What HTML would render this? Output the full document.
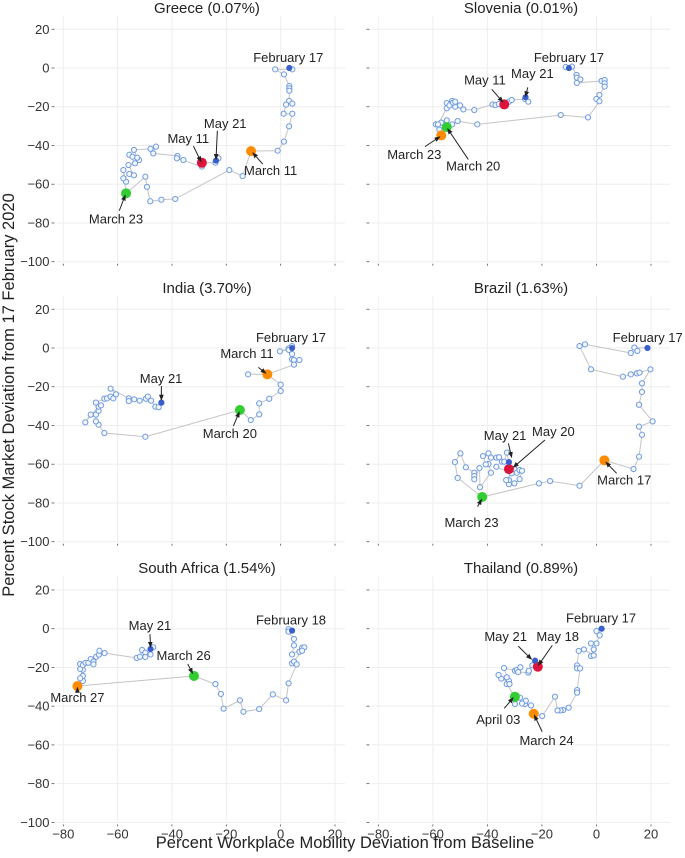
<!DOCTYPE html>
<html><head><meta charset="utf-8"><style>
html,body{margin:0;padding:0;background:#fff;}
svg{display:block;font-family:"Liberation Sans","DejaVu Sans",sans-serif;}
</style></head><body>
<svg id="chart" width="685" height="858" viewBox="0 0 685 858" xmlns="http://www.w3.org/2000/svg">
<defs><marker id="ah" viewBox="0 0 10 10" refX="9" refY="5" markerWidth="6" markerHeight="6" orient="auto"><path d="M0,1 L10,5 L0,9 z" fill="#222"/></marker></defs>
<text x="14" y="395" transform="rotate(-90 14 395)" text-anchor="middle" font-size="16.5" fill="#222">Percent Stock Market Deviation from 17 February 2020</text>
<text x="345" y="848" text-anchor="middle" font-size="16.5" fill="#222">Percent Workplace Mobility Deviation from Baseline</text>
</svg>
<script>
const xTicks=[-80,-60,-40,-20,0,20];
const yTicks=[20,0,-20,-40,-60,-80,-100];
const titles=["Greece (0.07%)","Slovenia (0.01%)","India (3.70%)","Brazil (1.63%)","South Africa (1.54%)","Thailand (0.89%)"];

const greeceX=[3.2,4.3,-2.0,1.2,3.2,3.2,3.2,3.1,4.3,2.0,1.1,4.3,3.1,1.2,-1.1,-10.9,-14.0,-18.9,-38.8,-43.9,-48.0,-49.2,-49.8,-56.9,-57.9,-56.9,-57.9,-55.7,-54.0,-56.0,-53.6,-55.7,-54.5,-52.1,-52.8,-54.0,-47.9,-45.9,-46.9,-38.0,-35.8,-38.2,-29.0,-29.0,-24.0,-22.9,-23.8];
const greeceY=[0,-0.7,-0.7,-3.3,-9.3,-10.5,-11.7,-17.0,-18.4,-18.9,-23.6,-23.6,-30.1,-38.0,-42.7,-42.9,-55.8,-52.7,-67.6,-68.0,-68.8,-61.4,-56.1,-64.7,-52.7,-58.7,-57.0,-54.7,-55.4,-50.1,-49.2,-44.8,-45.8,-47.5,-46.3,-42.3,-41.7,-40.6,-44.1,-45.4,-47.5,-46.6,-50.9,-48.9,-48.9,-46.6,-47.8];
const sloveniaX=[-10.1,-11.3,-9.0,-7.3,-7.2,-5.9,-7.2,1.9,3.0,3.0,3.0,1.1,0,1.1,-3.1,-13.1,-43.7,-50.9,-52.9,-54.9,-56.9,-57.6,-58.9,-56.9,-54.9,-58.1,-54.9,-54.9,-52.9,-53.9,-51.8,-52.6,-51.8,-50.0,-48.8,-44.8,-38.1,-37.0,-35.8,-33.8,-32.1,-31.1,-26.2,-25.0,-26.0];
const sloveniaY=[0,0.5,0.7,-3.6,-5.0,-5.9,-7.7,-6.7,-6.2,-7.9,-9.6,-13.9,-16.0,-17.2,-25.5,-24.3,-29.1,-27.4,-29.1,-30.5,-34.8,-31.8,-29.1,-28.2,-27.0,-29.1,-20.8,-18.1,-17.0,-19.3,-20.0,-17.9,-17.4,-19.3,-21.4,-21.7,-18.8,-19.1,-18.6,-18.8,-17.4,-16.5,-16.0,-17.4,-15.1];
const indiaX=[4.2,4.2,3.0,-0.3,3.0,4.2,4.2,4.9,6.9,4.9,-4.9,-12.0,-4.9,0,0,-4.2,-7.9,-7.9,-11.0,-15.0,-49.8,-64.9,-67.0,-68.0,-68.0,-67.0,-69.9,-71.9,-67.0,-66.1,-68.0,-64.9,-63.9,-62.6,-61.6,-60.6,-62.6,-55.9,-55.9,-53.9,-51.9,-49.6,-48.9,-47.7,-46.1,-44.9,-43.9];
const indiaY=[0,1.0,-0.2,-1.7,-1.0,-3.1,-5.9,-6.2,-6.2,-8.6,-13.6,-13.6,-13.6,-18.9,-22.2,-26.2,-28.6,-34.3,-37.2,-32.0,-45.8,-43.9,-39.6,-37.9,-34.4,-32.4,-34.4,-38.4,-30.3,-29.6,-28.2,-26.2,-26.0,-25.1,-26.0,-23.9,-21.0,-26.0,-27.4,-26.5,-27.2,-26.2,-25.1,-27.2,-30.3,-30.6,-28.2];
const brazilX=[18.7,13.9,15.0,12.6,-4.2,-6.2,-2.0,9.7,12.6,14.8,15.8,19.8,16.7,16.7,15.6,20.6,15.6,16.7,15.6,13.6,2.9,-6.2,-17.0,-21.1,-41.9,-50.9,-51.9,-49.9,-47.9,-44.8,-44.8,-44.8,-42.9,-42.7,-38.7,-39.6,-40.6,-41.6,-39.6,-38.7,-36.7,-35.7,-34.7,-33.8,-32.8,-32.1,-32.1,-30.1,-29.2,-28.2,-27.3,-28.2,-30.1,-32.1,-32.1,-33.1,-31.1,-36.7];
const brazilY=[0,0.2,-1.5,-2.6,1.9,1.0,-11.0,-14.8,-13.6,-13.1,-12.7,-11.0,-18.2,-22.7,-29.3,-37.9,-40.6,-44.8,-56.1,-62.5,-58.0,-71.1,-68.7,-69.9,-76.9,-67.1,-58.9,-54.4,-61.6,-64.4,-66.1,-67.8,-62.0,-71.9,-64.4,-59.9,-60.1,-55.8,-54.4,-56.6,-56.6,-56.4,-58.7,-58.7,-54.0,-58.9,-62.5,-62.5,-64.4,-63.0,-63.4,-67.7,-69.9,-70.3,-68.2,-68.2,-64.7,-61.3];
const safricaX=[4.2,2.9,2.9,4.9,4.9,4.2,7.9,8.7,6.9,7.9,4.2,4.9,5.9,2.9,2.0,-2.9,-7.9,-13.7,-15.0,-21.0,-22.0,-24.0,-31.9,-74.8,-72.8,-72.8,-73.8,-72.8,-73.8,-73.8,-72.8,-71.8,-70.8,-69.9,-68.9,-68.9,-67.9,-66.9,-66.7,-64.8,-53.0,-51.8,-51.0,-49.8,-49.8,-47.9,-46.9,-47.9];
const safricaY=[-1.0,-0.3,-1.5,-5.3,-8.6,-13.3,-9.8,-9.6,-11.9,-11.4,-17.9,-17.0,-18.4,-28.2,-37.0,-33.9,-41.5,-42.9,-37.0,-41.3,-33.7,-28.6,-24.4,-29.6,-27.0,-24.4,-25.6,-21.2,-20.8,-18.2,-18.8,-17.6,-17.6,-15.7,-17.0,-18.4,-14.5,-13.4,-11.4,-12.6,-15.1,-14.5,-11.0,-12.4,-14.6,-13.3,-9.6,-10.5];
const thailandX=[1.9,0,1.2,0,-2.0,-1.0,-2.0,-1.0,-4.6,-6.5,-7.1,-7.1,-6.0,-7.1,-7.1,-10.2,-12.2,-13.2,-14.3,-15.2,-19.9,-23.0,-24.0,-26.2,-25.9,-27.3,-28.0,-29.9,-29.9,-32.9,-32.1,-32.9,-34.9,-35.9,-31.9,-33.9,-29.9,-29.2,-27.9,-28.7,-25.0,-24.8,-23.5,-22.5,-21.5];
const thailandY=[0,-1.2,-3.4,-7.6,-7.6,-10.7,-14.1,-13.8,-10.7,-11.5,-19.0,-20.5,-20.5,-31.7,-33.0,-40.8,-42.0,-42.2,-42.2,-35.1,-45.1,-43.9,-39.6,-38.9,-37.2,-38.6,-35.6,-38.9,-35.1,-28.6,-26.9,-25.1,-25.8,-23.9,-28.6,-20.3,-21.7,-21.3,-19.9,-22.4,-22.7,-21.7,-18.9,-16.5,-19.6];

const seriesX=[greeceX,sloveniaX,indiaX,brazilX,safricaX,thailandX];
const seriesY=[greeceY,sloveniaY,indiaY,brazilY,safricaY,thailandY];

const highlights=[
 [[3.2,0,"#3a5fcd",3],[-10.9,-42.9,"#ff8c00",5],[-56.9,-64.7,"#32cd32",5],[-29.0,-48.9,"#dc143c",5],[-23.8,-47.8,"#3a5fcd",3]],
 [[-10.1,0,"#3a5fcd",3],[-54.9,-30.5,"#32cd32",5],[-56.9,-34.8,"#ff8c00",5],[-33.8,-18.8,"#dc143c",5],[-26.0,-15.1,"#3a5fcd",3]],
 [[4.2,0,"#3a5fcd",3],[-4.9,-13.6,"#ff8c00",5],[-15.0,-32.0,"#32cd32",5],[-43.9,-28.2,"#3a5fcd",3]],
 [[18.7,0,"#3a5fcd",3],[2.9,-58.0,"#ff8c00",5],[-41.9,-76.9,"#32cd32",5],[-32.1,-62.5,"#dc143c",5],[-32.1,-58.9,"#3a5fcd",3]],
 [[4.2,-1.0,"#3a5fcd",3],[-31.9,-24.4,"#32cd32",5],[-74.8,-29.6,"#ff8c00",5],[-47.9,-10.5,"#3a5fcd",3]],
 [[1.9,0,"#3a5fcd",3],[-23.0,-43.9,"#ff8c00",5],[-29.9,-35.1,"#32cd32",5],[-21.5,-19.6,"#dc143c",5],[-22.5,-16.5,"#3a5fcd",3]]
];
const annotations=[
 [["February 17",2.8,5.5,null],["May 21",-20.4,-28.6,-23.3,-32.4,-23.8,-47.2],["May 11",-34.0,-36.3,-32.1,-40.3,-29.3,-48.4],["March 11",-3.7,-53.0,-6.6,-49.6,-10.3,-43.7],["March 23",-60.6,-78.0,-59.4,-73.7,-57.2,-65.6]],
 [["February 17",-10.1,5.5,null],["May 21",-23.5,-2.8,-25.2,-10.0,-26.0,-14.8],["May 11",-40.9,-6.2,-38.4,-11.0,-34.3,-17.6],["March 23",-66.8,-44.6,-62.9,-40.6,-57.4,-35.5],["March 20",-45.2,-50.6,-47.0,-47.2,-54.6,-31.3]],
 [["February 17",3.8,5.3,null],["March 11",-12.4,-2.8,-8.2,-10.0,-5.4,-13.1],["May 21",-44.0,-15.7,-43.9,-19.6,-43.9,-26.9],["March 20",-18.7,-44.1,-17.4,-40.3,-15.2,-33.0]],
 [["February 17",18.8,5.3,null],["May 21",-33.5,-45.3,-32.3,-49.2,-31.1,-56.5],["May 20",-15.8,-43.2,-18.9,-47.5,-30.5,-61.6],["March 17",10.2,-68.2,7.4,-64.7,3.4,-58.9],["March 23",-45.8,-90.0,-43.6,-81.9,-42.1,-78.1]],
 [["February 18",3.8,4.5,null],["May 21",-48.1,1.7,-48.1,-2.8,-47.9,-9.6],["March 26",-35.7,-13.9,-34.2,-18.2,-32.4,-23.1],["March 27",-74.8,-35.5,-74.8,-32.5,-74.8,-30.3]],
 [["February 17",1.7,5.5,null],["May 21",-33.3,-4.1,-28.7,-9.0,-23.8,-15.8],["May 18",-14.2,-4.1,-16.2,-8.6,-21.3,-18.9],["April 03",-36.0,-46.8,-33.8,-41.1,-30.5,-35.6],["March 24",-18.3,-57.8,-19.9,-53.2,-22.8,-44.6]]
];

const NS="http://www.w3.org/2000/svg";
const svg=document.getElementById('chart');
function mk(tag,attrs,parent){const e=document.createElementNS(NS,tag);for(const k in attrs)e.setAttribute(k,attrs[k]);(parent||svg).appendChild(e);return e;}
const colX0=[63.3,378.3], colK=[2.717,2.727];
const rowY0=[68,348,628.7], yK=1.937;
function sx(c,v){return colX0[c]+(v+80)*colK[c];}
function sy(r,v){return rowY0[r]-v*yK;}

for(let p=0;p<6;p++){
  const c=p%2, r=Math.floor(p/2);
  const g=mk('g',{});
  
  
  const xl=sx(c,-82.5), xr=c===0?345:670;
  const yt=sy(r,27), yb=sy(r,-100);
  xTicks.forEach(t=>{const l=mk('line',{x1:sx(c,t),x2:sx(c,t),y1:yt,y2:yb,stroke:'#eeeeee','stroke-width':1},g);
    
    const tk=mk('line',{x1:sx(c,t),x2:sx(c,t),y1:yb+2,y2:yb+4,stroke:'#555','stroke-width':0.8},g);
    
    if(r===2){const tx=mk('text',{x:sx(c,t),y:yb+16,'text-anchor':'middle','font-size':13,fill:'#333'},g);tx.textContent=(t<0?'\u2212'+(-t):t);
      }
  });
  yTicks.forEach(t=>{const l=mk('line',{x1:xl,x2:xr,y1:sy(r,t),y2:sy(r,t),stroke:'#eeeeee','stroke-width':1},g);
    
    const tk=mk('line',{x1:xl-5,x2:xl-2,y1:sy(r,t),y2:sy(r,t),stroke:'#555','stroke-width':0.8},g);
    
    if(c===0){const tx=mk('text',{x:xl-7,y:sy(r,t)+4.5,'text-anchor':'end','font-size':13,fill:'#333'},g);tx.textContent=(t<0?'\u2212'+(-t):t);
      }
  });
  const ti=mk('text',{x:c===0?207:521,y:r*280+13,'text-anchor':'middle','font-size':15,fill:'#222'},g);
  ti.textContent=titles[p];
  
  const X=seriesX[p],Y=seriesY[p];
  const d=X.map((v,i)=>(i?'L':'M')+sx(c,v).toFixed(1)+','+sy(r,Y[i]).toFixed(1)).join(' ');
  const path=mk('path',{d:d,fill:'none',stroke:'#c4c4c4','stroke-width':1},g);
  
  X.forEach((v,i)=>{const ci=mk('circle',{cx:sx(c,v),cy:sy(r,Y[i]),r:2.6,fill:'#f4f7fd',stroke:'#6f9be0','stroke-width':1},g);
    });
  highlights[p].forEach(h=>{const ci=mk('circle',{cx:sx(c,h[0]),cy:sy(r,h[1]),r:h[3],fill:h[2]},g);
    });
  annotations[p].forEach(a=>{
    const tx=mk('text',{x:sx(c,a[1]),y:sy(r,a[2])+4.5,'text-anchor':'middle','font-size':13,fill:'#222'},g);
    tx.textContent=a[0];
    
    if(a[3]!==null){const ar=mk('line',{x1:sx(c,a[3]),y1:sy(r,a[4]),x2:sx(c,a[5]),y2:sy(r,a[6]),stroke:'#222','stroke-width':1,'marker-end':'url(#ah)'},g);
      }
  });
}
</script>
</body></html>
